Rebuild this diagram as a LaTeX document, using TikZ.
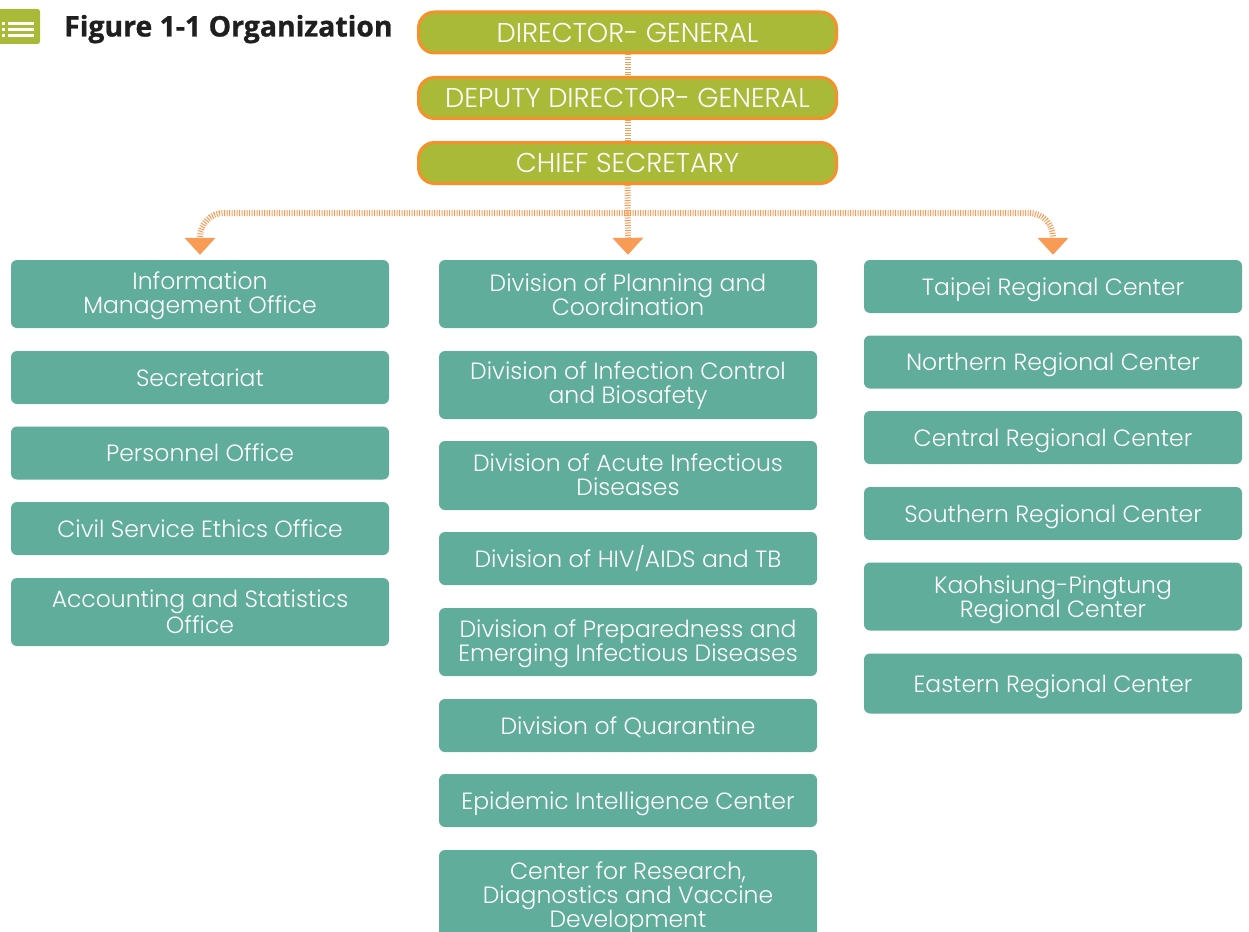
\documentclass[tikz,border=0pt]{standalone}
\usepackage{fontspec}
\setmainfont{Poppins Light}
\newfontfamily\titlefont{Open Sans}[FakeBold=0.9]
\usetikzlibrary{arrows.meta}
\definecolor{olivefill}{HTML}{A9BA38}
\definecolor{orangeedge}{HTML}{F7902A}
\definecolor{tealfill}{HTML}{5FAD9A}
\definecolor{arrowfill}{HTML}{F89B54}
\tikzset{
  x=1pt,y=-1pt,
  head/.style={draw=orangeedge,line width=3pt,fill=olivefill,rounded corners=16pt,text=white,
    minimum width=418pt,minimum height=41pt,inner sep=0pt,font=\fontsize{27.2}{27.2}\selectfont},
  unit/.style={fill=tealfill,rounded corners=6pt,text=white,minimum width=378pt,inner sep=0pt,
    align=center,font=\fontsize{23.5}{24}\selectfont},
  link/.style={draw=arrowfill,line width=6pt,dash pattern=on 1pt off 1.5pt},
  flow/.style={link,-{Triangle[width=30pt,length=17pt,fill=arrowfill]},shorten >=5pt,rounded corners=24pt},
}
\newcommand{\unitbox}[6][22]{\node[unit,minimum height=#5pt] (#2) at (#3,#4) {\rule{0pt}{#1pt}#6\rule[-5pt]{0pt}{5pt}};}
\begin{document}
\begin{tikzpicture}
\useasboundingbox (0,0) rectangle (1249,931);
\begin{scope}
\clip (0,0) rectangle (1249,931);
% icon
\fill[olivefill,rounded corners=2.5pt] (-10,9) rectangle (40,44);
\foreach \yy in {23.5,29.5,35.5}{
  \fill[white] (8,\yy-1.5) rectangle (34,\yy+1.5);
  \fill[white] (2,\yy-1.5) rectangle (5,\yy+1.5);
}
\node[anchor=base west,inner sep=0pt,font=\titlefont\bfseries\fontsize{28.4}{28.4}\selectfont,text=black!88] (title) at (64,36.5) {Figure 1-1 Organization};
% top
\node[head] (dg) at (627.5,32.5) {DIRECTOR- GENERAL};
\node[head] (ddg) at (627.5,98) {DEPUTY DIRECTOR- GENERAL};
\node[head] (cs) at (627.5,163) {CHIEF SECRETARY};
% column 1
\unitbox{c1a}{200}{294}{68}{Information\\Management Office}
\unitbox{c1b}{200}{377.5}{53}{Secretariat}
\unitbox{c1c}{200}{453}{53}{Personnel Office}
\unitbox{c1d}{200}{528.5}{53}{Civil Service Ethics Office}
\unitbox{c1e}{200}{612}{68}{Accounting and Statistics\\Office}
% column 2
\unitbox[24]{c2a}{628}{294}{68}{Division of Planning and\\Coordination}
\unitbox[20]{c2b}{628}{385}{68}{Division of Infection Control\\and Biosafety}
\unitbox[20]{c2c}{628}{475.5}{69}{Division of Acute Infectious\\Diseases}
\unitbox{c2d}{628}{558.5}{53}{Division of HIV/AIDS and TB}
\unitbox{c2e}{628}{642}{68}{Division of Preparedness and\\Emerging Infectious Diseases}
\unitbox{c2f}{628}{725.5}{53}{Division of Quarantine}
\unitbox[24]{c2g}{628}{800.5}{53}{Epidemic Intelligence Center}
\unitbox{c2h}{628}{896}{92}{Center for Research,\\Diagnostics and Vaccine\\Development}
% column 3
\unitbox[24]{c3a}{1053}{286.5}{53}{Taipei Regional Center}
\unitbox[24]{c3b}{1053}{362}{53}{Northern Regional Center}
\unitbox[24]{c3c}{1053}{437.5}{53}{Central Regional Center}
\unitbox[24]{c3d}{1053}{513.5}{53}{Southern Regional Center}
\unitbox[24]{c3e}{1053}{596.5}{68}{Kaohsiung-Pingtung\\Regional Center}
\unitbox[24]{c3f}{1053}{683.5}{60}{Eastern Regional Center}
% connectors
\coordinate (bus) at (627.5,213);
\draw[link] (dg.south) -- (ddg.north);
\draw[link] (ddg.south) -- (cs.north);
\draw[flow] (cs.south) -- (c2a.north);
\draw[flow] (bus) -| (c1a.north);
\draw[flow] (bus) -| (c3a.north);
\end{scope}
\end{tikzpicture}
\end{document}
